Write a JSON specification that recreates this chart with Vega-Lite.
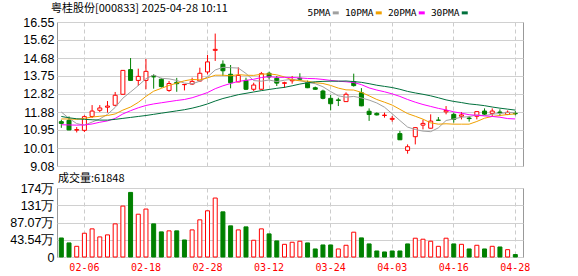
{
  "$schema": "https://vega.github.io/schema/vega-lite/v6.json",
  "padding": {"left": 0, "top": 2, "right": 5, "bottom": 0},
  "background": "white",
  "spacing": -1,
  "config": {
    "view": {"stroke": "#999999", "strokeWidth": 1},
    "font": "Noto Sans CJK SC",
    "axis": {"labelOverlap": false}
  },
  "datasets": {
    "k": [
      {"d":"01-24","o":11.38,"h":11.48,"l":11.06,"c":11.29,"v":48,"ma5":11.88,"ma10":11.52,"ma20":11.22,"ma30":11.65},
      {"d":"01-27","o":11.45,"h":11.65,"l":10.94,"c":10.95,"v":35.5,"ma5":11.55,"ma10":11.52,"ma20":11.21,"ma30":11.58},
      {"d":"02-05","o":10.94,"h":11.10,"l":10.82,"c":10.97,"v":27,"ma5":11.28,"ma10":11.50,"ma20":11.20,"ma30":11.53},
      {"d":"02-06","o":10.93,"h":11.71,"l":10.84,"c":11.64,"v":60,"ma5":11.20,"ma10":11.55,"ma20":11.21,"ma30":11.50},
      {"d":"02-07","o":11.65,"h":12.24,"l":11.57,"c":11.93,"v":71,"ma5":11.36,"ma10":11.62,"ma20":11.26,"ma30":11.48},
      {"d":"02-10","o":11.97,"h":12.24,"l":11.88,"c":12.09,"v":50.7,"ma5":11.52,"ma10":11.66,"ma20":11.35,"ma30":11.46},
      {"d":"02-11","o":12.13,"h":12.45,"l":11.85,"c":12.19,"v":55.8,"ma5":11.76,"ma10":11.70,"ma20":11.42,"ma30":11.46},
      {"d":"02-12","o":12.23,"h":12.92,"l":12.18,"c":12.75,"v":83.6,"ma5":12.12,"ma10":11.78,"ma20":11.55,"ma30":11.50},
      {"d":"02-13","o":12.80,"h":14.05,"l":12.78,"c":14.04,"v":128.5,"ma5":12.60,"ma10":11.98,"ma20":11.78,"ma30":11.55},
      {"d":"02-14","o":14.08,"h":14.68,"l":13.50,"c":13.52,"v":163,"ma5":12.92,"ma10":12.14,"ma20":11.95,"ma30":11.60},
      {"d":"02-17","o":13.52,"h":14.13,"l":13.23,"c":13.73,"v":108,"ma5":13.25,"ma10":12.38,"ma20":12.10,"ma30":11.65},
      {"d":"02-18","o":13.52,"h":14.63,"l":13.06,"c":13.99,"v":121,"ma5":13.61,"ma10":12.69,"ma20":12.22,"ma30":11.70},
      {"d":"02-19","o":13.76,"h":13.84,"l":13.09,"c":13.70,"v":83.6,"ma5":13.80,"ma10":12.96,"ma20":12.30,"ma30":11.76},
      {"d":"02-20","o":13.58,"h":13.65,"l":13.15,"c":13.20,"v":63.4,"ma5":13.63,"ma10":13.11,"ma20":12.36,"ma30":11.82},
      {"d":"02-21","o":13.00,"h":13.49,"l":12.93,"c":13.36,"v":66,"ma5":13.60,"ma10":13.26,"ma20":12.42,"ma30":11.88},
      {"d":"02-24","o":13.42,"h":13.65,"l":12.93,"c":13.35,"v":66,"ma5":13.52,"ma10":13.38,"ma20":12.48,"ma30":11.94},
      {"d":"02-25","o":13.30,"h":13.33,"l":13.00,"c":13.31,"v":43,"ma5":13.38,"ma10":13.50,"ma20":12.53,"ma30":12.00},
      {"d":"02-26","o":13.33,"h":13.66,"l":13.28,"c":13.47,"v":68.4,"ma5":13.34,"ma10":13.57,"ma20":12.62,"ma30":12.08},
      {"d":"02-27","o":13.49,"h":14.18,"l":13.44,"c":13.89,"v":93.8,"ma5":13.48,"ma10":13.55,"ma20":12.75,"ma30":12.18},
      {"d":"02-28","o":13.96,"h":14.84,"l":13.84,"c":14.48,"v":116.6,"ma5":13.70,"ma10":13.65,"ma20":12.89,"ma30":12.30},
      {"d":"03-03","o":15.08,"h":15.95,"l":14.53,"c":15.13,"v":148.8,"ma5":14.06,"ma10":13.79,"ma20":13.09,"ma30":12.45},
      {"d":"03-04","o":14.36,"h":14.56,"l":13.75,"c":14.02,"v":114,"ma5":14.20,"ma10":13.79,"ma20":13.24,"ma30":12.58},
      {"d":"03-05","o":13.84,"h":14.32,"l":13.11,"c":13.40,"v":78.6,"ma5":14.18,"ma10":13.76,"ma20":13.36,"ma30":12.68},
      {"d":"03-06","o":13.44,"h":14.20,"l":13.43,"c":13.78,"v":68.4,"ma5":14.16,"ma10":13.82,"ma20":13.47,"ma30":12.78},
      {"d":"03-07","o":13.52,"h":13.66,"l":13.02,"c":13.06,"v":76,"ma5":13.88,"ma10":13.79,"ma20":13.52,"ma30":12.85},
      {"d":"03-10","o":13.06,"h":13.40,"l":12.97,"c":13.28,"v":42.3,"ma5":13.51,"ma10":13.78,"ma20":13.58,"ma30":12.92},
      {"d":"03-11","o":13.06,"h":13.96,"l":13.04,"c":13.87,"v":71,"ma5":13.48,"ma10":13.84,"ma20":13.67,"ma30":12.99},
      {"d":"03-12","o":13.89,"h":13.97,"l":13.58,"c":13.70,"v":58.3,"ma5":13.54,"ma10":13.86,"ma20":13.71,"ma30":13.05},
      {"d":"03-13","o":13.63,"h":13.75,"l":13.23,"c":13.38,"v":40.6,"ma5":13.46,"ma10":13.81,"ma20":13.68,"ma30":13.11},
      {"d":"03-14","o":13.37,"h":13.45,"l":13.13,"c":13.40,"v":32,"ma5":13.53,"ma10":13.70,"ma20":13.68,"ma30":13.16},
      {"d":"03-17","o":13.50,"h":13.75,"l":13.35,"c":13.56,"v":37.2,"ma5":13.58,"ma10":13.55,"ma20":13.67,"ma30":13.24},
      {"d":"03-18","o":13.63,"h":13.89,"l":13.54,"c":13.58,"v":39.8,"ma5":13.52,"ma10":13.50,"ma20":13.65,"ma30":13.33},
      {"d":"03-19","o":13.40,"h":13.51,"l":13.12,"c":13.14,"v":35.5,"ma5":13.41,"ma10":13.48,"ma20":13.62,"ma30":13.40},
      {"d":"03-20","o":13.14,"h":13.20,"l":13.04,"c":13.06,"v":20.3,"ma5":13.35,"ma10":13.40,"ma20":13.61,"ma30":13.45},
      {"d":"03-21","o":12.97,"h":13.04,"l":12.54,"c":12.59,"v":30.4,"ma5":13.19,"ma10":13.36,"ma20":13.57,"ma30":13.47},
      {"d":"03-24","o":12.59,"h":12.76,"l":11.97,"c":12.31,"v":30.4,"ma5":12.94,"ma10":13.26,"ma20":13.52,"ma30":13.48},
      {"d":"03-25","o":12.51,"h":12.62,"l":12.19,"c":12.48,"v":20.3,"ma5":12.72,"ma10":13.12,"ma20":13.48,"ma30":13.48},
      {"d":"03-26","o":12.42,"h":12.90,"l":12.40,"c":12.80,"v":29.6,"ma5":12.65,"ma10":13.03,"ma20":13.45,"ma30":13.49},
      {"d":"03-27","o":13.45,"h":13.87,"l":13.20,"c":13.25,"v":62.6,"ma5":12.69,"ma10":13.02,"ma20":13.41,"ma30":13.46},
      {"d":"03-28","o":12.88,"h":13.12,"l":12.18,"c":12.20,"v":48.2,"ma5":12.61,"ma10":12.90,"ma20":13.30,"ma30":13.42},
      {"d":"03-31","o":11.92,"h":12.07,"l":11.42,"c":11.75,"v":33,"ma5":12.50,"ma10":12.72,"ma20":13.13,"ma30":13.35},
      {"d":"04-01","o":11.81,"h":11.86,"l":11.70,"c":11.73,"v":15.2,"ma5":12.35,"ma10":12.53,"ma20":13.02,"ma30":13.27},
      {"d":"04-02","o":11.70,"h":11.85,"l":11.59,"c":11.72,"v":12.7,"ma5":12.13,"ma10":12.39,"ma20":12.93,"ma30":13.21},
      {"d":"04-03","o":11.50,"h":11.67,"l":11.38,"c":11.55,"v":15.2,"ma5":11.79,"ma10":12.24,"ma20":12.82,"ma30":13.15},
      {"d":"04-07","o":10.76,"h":10.90,"l":10.43,"c":10.44,"v":15.2,"ma5":11.44,"ma10":12.02,"ma20":12.69,"ma30":13.06},
      {"d":"04-08","o":9.89,"h":10.20,"l":9.72,"c":10.08,"v":33,"ma5":11.10,"ma10":11.80,"ma20":12.53,"ma30":12.95},
      {"d":"04-09","o":10.60,"h":11.09,"l":10.20,"c":11.07,"v":47.4,"ma5":10.97,"ma10":11.66,"ma20":12.39,"ma30":12.87},
      {"d":"04-10","o":11.20,"h":11.48,"l":10.98,"c":11.29,"v":44.9,"ma5":10.89,"ma10":11.51,"ma20":12.27,"ma30":12.80},
      {"d":"04-11","o":11.04,"h":11.76,"l":11.03,"c":11.41,"v":39.8,"ma5":10.86,"ma10":11.32,"ma20":12.17,"ma30":12.72},
      {"d":"04-14","o":11.46,"h":11.62,"l":11.44,"c":11.45,"v":27,"ma5":11.06,"ma10":11.25,"ma20":12.07,"ma30":12.62},
      {"d":"04-15","o":11.89,"h":12.19,"l":11.76,"c":11.96,"v":47.4,"ma5":11.44,"ma10":11.27,"ma20":11.99,"ma30":12.51},
      {"d":"04-16","o":11.76,"h":11.85,"l":11.33,"c":11.50,"v":33,"ma5":11.52,"ma10":11.25,"ma20":11.89,"ma30":12.43},
      {"d":"04-17","o":11.66,"h":11.88,"l":11.50,"c":11.73,"v":32,"ma5":11.61,"ma10":11.25,"ma20":11.82,"ma30":12.37},
      {"d":"04-18","o":11.57,"h":11.67,"l":11.38,"c":11.54,"v":20.3,"ma5":11.64,"ma10":11.25,"ma20":11.74,"ma30":12.30},
      {"d":"04-21","o":11.66,"h":11.91,"l":11.50,"c":11.90,"v":29.6,"ma5":11.73,"ma10":11.39,"ma20":11.71,"ma30":12.26},
      {"d":"04-22","o":11.93,"h":12.07,"l":11.73,"c":11.77,"v":20.3,"ma5":11.69,"ma10":11.56,"ma20":11.68,"ma30":12.21},
      {"d":"04-23","o":11.81,"h":12.07,"l":11.67,"c":11.93,"v":27,"ma5":11.77,"ma10":11.65,"ma20":11.65,"ma30":12.14},
      {"d":"04-24","o":11.88,"h":12.02,"l":11.67,"c":11.84,"v":25.3,"ma5":11.80,"ma10":11.70,"ma20":11.61,"ma30":12.08},
      {"d":"04-25","o":11.75,"h":11.96,"l":11.72,"c":11.87,"v":18.5,"ma5":11.86,"ma10":11.75,"ma20":11.54,"ma30":12.03},
      {"d":"04-28","o":11.81,"h":11.93,"l":11.71,"c":11.79,"v":6.18,"ma5":11.84,"ma10":11.78,"ma20":11.52,"ma30":11.98}
    ]
  },
  "vconcat": [
    {
      "width": 466,
      "height": 144,
      "title": {"text": "粤桂股份[000833] 2025-04-28 10:11", "anchor": "start", "frame": "group", "offset": 2, "dx": -6, "fontSize": 11, "fontWeight": "normal", "font": "Noto Sans CJK SC", "color": "#000000"},
      "data": {"name": "k"},
      "encoding": {
        "x": {
          "field": "d", "type": "ordinal", "sort": null, "title": null,
          "scale": {"paddingInner": 0.48, "paddingOuter": 0.52, "align": 0.29, "round": false},
          "axis": {"values": ["02-06","02-18","02-28","03-12","03-24","04-03","04-16","04-28"], "labels": false, "ticks": false, "domain": false, "grid": true, "gridColor": "#cccccc", "gridDash": [4, 3], "bandPosition": 0.5, "minExtent": 0, "maxExtent": 0}
        }
      },
      "layer": [
        {
          "mark": {"type": "rule", "strokeWidth": 1},
          "encoding": {
            "y": {"field": "l", "type": "quantitative", "title": null,
              "scale": {"domain": [9.08, 16.55], "nice": false, "zero": false},
              "axis": {"values": [9.08, 10.01, 10.95, 11.88, 12.82, 13.75, 14.68, 15.62, 16.55], "tickCount": 20, "format": ".2f", "grid": true, "gridColor": "#d0d0d0", "domain": false, "ticks": false, "labelPadding": 3, "labelFont": "Liberation Sans", "labelFontSize": 12.5, "labelColor": "#000000", "labelOverlap": false, "minExtent": 56, "maxExtent": 56}},
            "y2": {"field": "h"},
            "stroke": {"condition": {"test": "datum.c >= datum.o", "value": "#ff0000"}, "value": "#008000"}
          }
        },
        {
          "mark": {"type": "bar", "strokeWidth": 1},
          "encoding": {
            "y": {"field": "o", "type": "quantitative", "title": null},
            "y2": {"field": "c"},
            "fill": {"condition": {"test": "datum.c >= datum.o", "value": "#ffffff"}, "value": "#008000"},
            "stroke": {"condition": {"test": "datum.c >= datum.o", "value": "#ff0000"}, "value": "#008000"}
          }
        },
        {
          "transform": [{"fold": ["ma5", "ma10", "ma20", "ma30"], "as": ["ma", "val"]}],
          "mark": {"type": "line", "strokeWidth": 1},
          "encoding": {
            "y": {"field": "val", "type": "quantitative", "title": null},
            "color": {
              "field": "ma", "type": "nominal", "title": null,
              "scale": {"domain": ["ma5", "ma10", "ma20", "ma30"], "range": ["#a0a0a0", "#f0a000", "#ff00ff", "#00703c"]},
              "legend": {
                "orient": "none", "legendX": 274, "legendY": -14, "direction": "horizontal",
                "labelExpr": "datum.label == 'ma5' ? '5PMA' : datum.label == 'ma10' ? '10PMA' : datum.label == 'ma20' ? '20PMA' : '30PMA'",
                "labelFont": "DejaVu Sans Mono", "labelFontSize": 9.5, "labelColor": "#000000",
                "labelAlign": "right", "labelOffset": -10,
                "symbolType": "stroke", "symbolSize": 36, "symbolStrokeWidth": 3,
                "columnPadding": -1, "padding": 0
              }
            }
          }
        }
      ]
    },
    {
      "width": 466,
      "height": 69,
      "title": {"text": "成交量:61848", "anchor": "start", "frame": "group", "offset": -2, "dx": 1, "fontSize": 11, "fontWeight": "normal", "font": "Noto Sans CJK SC", "color": "#000000"},
      "data": {"name": "k"},
      "transform": [{"window": [{"op": "lag", "field": "c", "as": "pc"}], "sort": [{"field": "d"}]}],
      "mark": {"type": "bar", "strokeWidth": 1},
      "encoding": {
        "x": {
          "field": "d", "type": "ordinal", "sort": null, "title": null,
          "scale": {"paddingInner": 0.48, "paddingOuter": 0.52, "align": 0.29, "round": false},
          "axis": {"values": ["02-06","02-18","02-28","03-12","03-24","04-03","04-16","04-28"], "labelAngle": 0, "ticks": false, "domain": false, "grid": true, "gridColor": "#cccccc", "gridDash": [4, 3], "bandPosition": 0.5, "labelColor": "#ff0000", "labelFont": "DejaVu Sans Mono", "labelFontSize": 10, "labelPadding": 5}
        },
        "y": {
          "field": "v", "type": "quantitative", "title": null,
          "scale": {"domain": [0, 174.14], "nice": false},
          "axis": {"values": [0, 43.54, 87.07, 130.6, 174.14], "tickCount": 20, "labelExpr": "datum.value == 0 ? '0' : (datum.value >= 100 ? format(datum.value, '.0f') : format(datum.value, '.2f')) + '万'", "grid": true, "gridColor": "#d0d0d0", "domain": false, "ticks": false, "labelPadding": 3, "labelFont": "Liberation Sans", "labelFontSize": 12.5, "labelColor": "#000000", "labelOverlap": false, "minExtent": 56, "maxExtent": 56}
        },
        "fill": {"condition": {"test": "datum.pc == null ? datum.c >= datum.o : datum.c > datum.pc", "value": "#ffffff"}, "value": "#008000"},
        "stroke": {"condition": {"test": "datum.pc == null ? datum.c >= datum.o : datum.c > datum.pc", "value": "#ff0000"}, "value": "#008000"}
      }
    }
  ]
}
